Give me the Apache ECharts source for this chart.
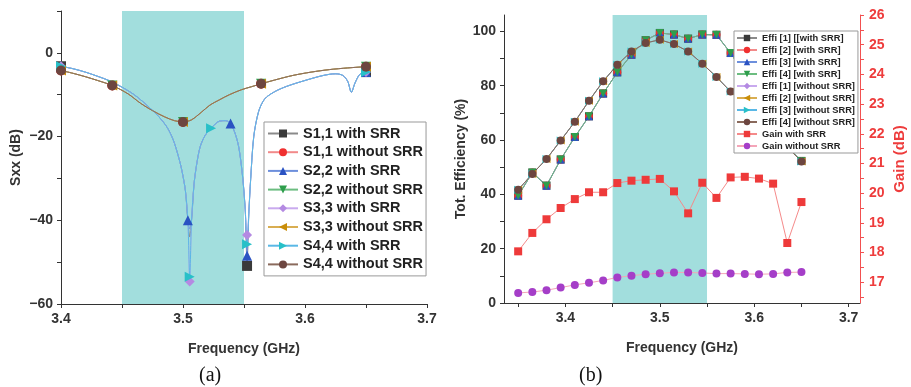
<!DOCTYPE html>
<html>
<head>
<meta charset="utf-8">
<script src="https://cdn.jsdelivr.net/npm/echarts@6/dist/echarts.min.js"></script>
<style>
  html, body { margin: 0; padding: 0; background: #fff; }
  #chart { width: 911px; height: 387px; }
</style>
</head>
<body>
<div id="chart"></div>
<script>
// ---- (a) reflection coefficients ----
const sFreq = [3.400, 3.410, 3.420, 3.430, 3.440, 3.450, 3.460, 3.470, 3.480, 3.487, 3.492, 3.496, 3.499,
  3.502, 3.504, 3.5055, 3.507, 3.509, 3.511, 3.514, 3.518, 3.523, 3.530, 3.535, 3.539, 3.543, 3.546, 3.549,
  3.551, 3.5525, 3.554, 3.5555, 3.558, 3.562, 3.567, 3.575, 3.585, 3.600, 3.615, 3.625, 3.631, 3.635, 3.638,
  3.641, 3.645, 3.650];
const sWithSrr = [-3.2, -3.8, -4.6, -5.6, -6.7, -8.2, -10.0, -12.4, -15.2, -17.8, -20.8, -24.5, -28.0,
  -33.0, -40.0, -54.0, -40.0, -31.5, -27.0, -22.5, -19.8, -18.0, -16.3, -16.2, -16.9, -19.5, -23.0, -30.0,
  -37.5, -48.0, -38.0, -30.0, -20.0, -14.0, -11.0, -9.3, -8.0, -6.6, -5.4, -5.0, -5.4, -6.8, -9.4,
  -7.2, -5.1, -4.6];
// depth of the two resonances, per port (S11, S22, S33, S44)
const dip1Freq = 3.5055;
const dip2Freq = 3.5525;
const dip1Depth = [-44, -42, -54.6, -53.5];
const dip2Depth = [-50.9, -48.5, -43.5, -45.7];
const withMarks = [
  [3.4, 3.5525, 3.65],
  [3.4, 3.504, 3.539, 3.5525, 3.65],
  [3.4, 3.5055, 3.5525, 3.65],
  [3.4, 3.5055, 3.523, 3.5525, 3.65]
];

const sFreqWo = [3.400, 3.410, 3.420, 3.430, 3.442, 3.455, 3.465, 3.475, 3.485, 3.493, 3.500, 3.507,
  3.515, 3.522, 3.530, 3.538, 3.548, 3.556, 3.564, 3.575, 3.590, 3.605, 3.620, 3.635, 3.650];
const sWithoutSrr = [-4.2, -4.9, -5.7, -6.6, -7.8, -9.8, -12.0, -13.8, -15.3, -16.2, -16.5, -16.0,
  -14.2, -12.5, -11.2, -10.0, -8.8, -8.1, -7.4, -6.5, -5.4, -4.6, -4.0, -3.6, -3.3];
const withoutMarks = [3.4, 3.442, 3.5, 3.564, 3.65];

const ports = ['S1,1', 'S2,2', 'S3,3', 'S4,4'];
const shadeBand = [3.45, 3.55];

// ---- (b) efficiency and gain ----
const effFreq = [3.35, 3.365, 3.38, 3.395, 3.41, 3.425, 3.44, 3.455, 3.47, 3.485, 3.5, 3.515, 3.53,
  3.545, 3.56, 3.575, 3.59, 3.605, 3.62, 3.635, 3.65];
const effWithSrr = [39.5, 48.0, 43.2, 52.8, 61.1, 68.7, 77.1, 84.9, 91.4, 96.7, 99.4, 98.8, 97.3,
  98.8, 98.7, 92.0, 84.0, 75.0, 66.0, 57.5, 52.3];
const effWithoutSrr = [41.7, 47.5, 53.0, 59.8, 66.7, 74.4, 81.6, 87.7, 92.6, 95.7, 96.9, 95.3, 92.6,
  88.1, 83.2, 77.8, 72.5, 67.0, 62.0, 57.3, 52.1];
const gainWithSrr = [18.04, 18.66, 19.12, 19.5, 19.8, 20.03, 20.03, 20.34, 20.42, 20.45, 20.48, 20.06,
  19.32, 20.35, 19.84, 20.53, 20.55, 20.49, 20.32, 18.32, 19.7];
const gainWithoutSrr = [16.64, 16.67, 16.73, 16.82, 16.91, 16.98, 17.06, 17.16, 17.22, 17.27, 17.30,
  17.33, 17.33, 17.31, 17.29, 17.29, 17.28, 17.27, 17.28, 17.33, 17.34];

const effNames = ['Effi [1] [[with SRR]', 'Effi [2] [with SRR]', 'Effi [3] [with SRR]', 'Effi [4] [with SRR]',
  'Effi [1] [without SRR]', 'Effi [2] [without SRR]', 'Effi [3] [without SRR]', 'Effi [4] [without SRR]'];

// marker styles, in Origin's default order
const styles = [
  { symbol: 'rect', rotate: 0, color: '#3a3a3a', line: '#8a8a8a' },
  { symbol: 'circle', rotate: 0, color: '#f03030', line: '#f28a8a' },
  { symbol: 'triangle', rotate: 0, color: '#2a52c2', line: '#6d8fdc' },
  { symbol: 'triangle', rotate: 180, color: '#2e9e4c', line: '#6cbd80' },
  { symbol: 'diamond', rotate: 0, color: '#b48ae2', line: '#c9aaee' },
  { symbol: 'triangle', rotate: 90, color: '#c98e0a', line: '#d9ae52' },
  { symbol: 'triangle', rotate: -90, color: '#28c0c8', line: '#5ab8e6' },
  { symbol: 'circle', rotate: 0, color: '#6d4640', line: '#8a6a5c' }
];

const textColor = '#333';
const font = 'Liberation Sans, Arial, sans-serif';

function withMarkers(xs, ys, marks) {
  return xs.map((x, i) => marks.includes(x) ? [x, ys[i]] : { value: [x, ys[i]], symbol: 'none' });
}

function minus(v) {
  return v < 0 ? '\u2212' + Math.abs(v) : String(v);
}

const series = [];

// shaded operating band, one per panel
series.push({
  type: 'line', xAxisIndex: 0, yAxisIndex: 0, data: [], z: 0, silent: true,
  markArea: { silent: true, itemStyle: { color: '#a2dedd' }, data: [[{ xAxis: shadeBand[0] }, { xAxis: shadeBand[1] }]] }
});
series.push({
  type: 'line', xAxisIndex: 1, yAxisIndex: 1, data: [], z: 0, silent: true,
  markArea: { silent: true, itemStyle: { color: '#a2dedd' }, data: [[{ xAxis: shadeBand[0] }, { xAxis: shadeBand[1] }]] }
});

const leftNames = [];
ports.forEach((p, k) => {
  const ys = sWithSrr.map((v, i) => {
    if (sFreq[i] === dip1Freq) return dip1Depth[k];
    if (sFreq[i] === dip2Freq) return dip2Depth[k];
    return v;
  });
  const st1 = styles[k * 2];
  const st2 = styles[k * 2 + 1];
  leftNames.push(p + ' with SRR', p + ' without SRR');
  series.push({
    name: p + ' with SRR', type: 'line', xAxisIndex: 0, yAxisIndex: 0, z: 2,
    smooth: 0.3, symbol: st1.symbol, symbolRotate: st1.rotate, symbolSize: 10,
    itemStyle: { color: st1.color }, lineStyle: { color: st1.line, width: 1 },
    data: withMarkers(sFreq, ys, withMarks[k])
  });
  series.push({
    name: p + ' without SRR', type: 'line', xAxisIndex: 0, yAxisIndex: 0, z: 2,
    smooth: 0.3, symbol: st2.symbol, symbolRotate: st2.rotate, symbolSize: 10,
    itemStyle: { color: st2.color }, lineStyle: { color: st2.line, width: 1 },
    data: withMarkers(sFreqWo, sWithoutSrr, withoutMarks)
  });
});

effNames.forEach((n, k) => {
  const st = styles[k];
  const ys = k < 4 ? effWithSrr : effWithoutSrr;
  series.push({
    name: n, type: 'line', xAxisIndex: 1, yAxisIndex: 1, z: 2,
    symbol: st.symbol, symbolRotate: st.rotate, symbolSize: 8,
    itemStyle: { color: st.color }, lineStyle: { color: st.line, width: 1 },
    data: effFreq.map((x, i) => [x, ys[i]])
  });
});
series.push({
  name: 'Gain with SRR', type: 'line', xAxisIndex: 1, yAxisIndex: 2, z: 2,
  symbol: 'rect', symbolSize: 8,
  itemStyle: { color: '#ee3a3a' }, lineStyle: { color: '#f58a8a', width: 1 },
  data: effFreq.map((x, i) => [x, gainWithSrr[i]])
});
series.push({
  name: 'Gain without SRR', type: 'line', xAxisIndex: 1, yAxisIndex: 2, z: 2,
  symbol: 'circle', symbolSize: 8,
  itemStyle: { color: '#a53ec8' }, lineStyle: { color: '#f4a6b8', width: 1 },
  data: effFreq.map((x, i) => [x, gainWithoutSrr[i]])
});

function axisBase(color) {
  return {
    type: 'value',
    splitLine: { show: false },
    axisLine: { show: true, onZero: false, lineStyle: { color: color, width: 1 } },
    axisTick: { show: true, inside: false, length: 4, lineStyle: { color: color } },
    axisLabel: { color: color === '#333' ? textColor : color, fontSize: 14, fontWeight: 'bold', fontFamily: font, margin: 8 },
    nameLocation: 'middle',
    nameTextStyle: { color: color === '#333' ? textColor : color, fontSize: 14, fontWeight: 'bold', fontFamily: font }
  };
}

function mergeAxis(base, extra) {
  const out = Object.assign({}, base, extra);
  out.axisLabel = Object.assign({}, base.axisLabel, extra.axisLabel || {});
  out.axisTick = Object.assign({}, base.axisTick, extra.axisTick || {});
  out.nameTextStyle = Object.assign({}, base.nameTextStyle, extra.nameTextStyle || {});
  return out;
}

const chart = echarts.init(document.getElementById('chart'), null, { renderer: 'canvas' });
chart.setOption({
  animation: false,
  backgroundColor: '#fff',
  grid: [
    { left: 61, right: 484, top: 11, bottom: 83 },
    { left: 504, right: 51, top: 15, bottom: 84 }
  ],
  xAxis: [
    mergeAxis(axisBase('#333'), {
      gridIndex: 0, min: 3.4, max: 3.7, name: 'Frequency (GHz)', nameGap: 38,
      axisLabel: { customValues: [3.4, 3.5, 3.6, 3.7], formatter: v => v.toFixed(1) },
      axisTick: { customValues: [3.4, 3.45, 3.5, 3.55, 3.6, 3.65, 3.7] }
    }),
    mergeAxis(axisBase('#333'), {
      gridIndex: 1, min: 3.335, max: 3.712, name: 'Frequency (GHz)', nameGap: 38,
      axisLabel: { customValues: [3.4, 3.5, 3.6, 3.7], formatter: v => v.toFixed(1) },
      axisTick: { customValues: [3.35, 3.4, 3.45, 3.5, 3.55, 3.6, 3.65, 3.7] }
    })
  ],
  yAxis: [
    mergeAxis(axisBase('#333'), {
      gridIndex: 0, min: -60, max: 10, name: 'Sxx (dB)', nameGap: 38,
      axisLabel: { customValues: [-60, -40, -20, 0], formatter: v => minus(v) },
      axisTick: { customValues: [-60, -50, -40, -30, -20, -10, 0, 10] }
    }),
    mergeAxis(axisBase('#333'), {
      gridIndex: 1, min: 0, max: 106, name: 'Tot. Efficiency (%)', nameGap: 36,
      axisLabel: { customValues: [0, 20, 40, 60, 80, 100] },
      axisTick: { customValues: [0, 10, 20, 30, 40, 50, 60, 70, 80, 90, 100] }
    }),
    mergeAxis(axisBase('#f25050'), {
      gridIndex: 1, position: 'right', min: 16.3, max: 26, name: 'Gain (dB)', nameGap: 32,
      axisLabel: { customValues: [17, 18, 19, 20, 21, 22, 23, 24, 25, 26], color: '#ee3c3c', margin: 9 },
      axisTick: { customValues: [16.5, 17, 17.5, 18, 18.5, 19, 19.5, 20, 20.5, 21, 21.5, 22, 22.5, 23, 23.5, 24, 24.5, 25, 25.5, 26] },
      nameTextStyle: { color: '#ee3c3c', fontSize: 15 }
    })
  ],
  legend: [
    {
      data: leftNames, orient: 'vertical', left: 264, top: 122, selectedMode: false,
      itemWidth: 30, itemHeight: 10, itemGap: 3.7, padding: [4, 3, 4, 3],
      borderColor: '#999', borderWidth: 1, backgroundColor: '#fff',
      textStyle: { fontSize: 14.5, fontWeight: 'bold', color: '#222', fontFamily: font, lineHeight: 15 }
    },
    {
      data: effNames.concat(['Gain with SRR', 'Gain without SRR']), orient: 'vertical', left: 734, top: 31,
      selectedMode: false, itemWidth: 20, itemHeight: 8, itemGap: 2, padding: [2, 3, 2, 2],
      borderColor: '#999', borderWidth: 1, backgroundColor: '#fff',
      textStyle: { fontSize: 9.3, fontWeight: 'bold', color: '#222', fontFamily: font, lineHeight: 10 }
    }
  ],
  graphic: [
    { type: 'text', left: 199, top: 366, style: { text: '(a)', font: '20px "Liberation Serif", "Times New Roman", serif', fill: '#111' } },
    { type: 'text', left: 579, top: 366, style: { text: '(b)', font: '20px "Liberation Serif", "Times New Roman", serif', fill: '#111' } }
  ],
  series: series
});
</script>
</body>
</html>
